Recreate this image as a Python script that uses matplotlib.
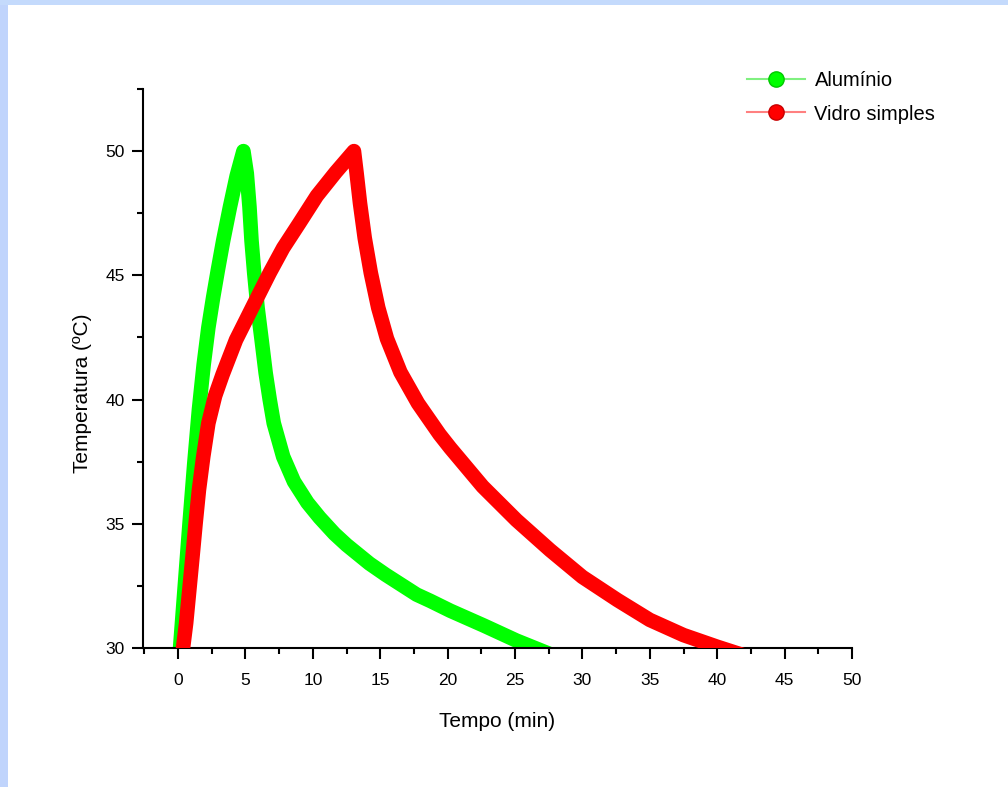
import matplotlib
matplotlib.use("Agg")
import matplotlib.pyplot as plt
from matplotlib.lines import Line2D
from matplotlib.patches import Rectangle
from matplotlib.ticker import MultipleLocator

# ---- data ----
alu_t = [0.15, 0.5, 0.85, 1.2, 1.55, 1.9, 2.25, 2.6, 2.95, 3.35, 3.85, 4.35, 4.85,
         5.1, 5.3, 5.45, 5.65, 5.9, 6.2, 6.5, 6.8, 7.1, 7.8, 8.6, 9.6, 10.5, 11.6,
         12.5, 14.2, 15.4, 17.7, 18.7, 20.2, 22.7, 25.1, 28.3]
alu_T = [30.0, 32.5, 35.0, 37.4, 39.6, 41.4, 42.9, 44.1, 45.2, 46.4, 47.75, 49.0, 50.0,
         49.1, 47.75, 46.4, 45.1, 43.7, 42.4, 41.07, 40.0, 39.05, 37.7, 36.7, 35.85, 35.25, 34.6,
         34.15, 33.4, 32.95, 32.15, 31.9, 31.5, 30.9, 30.3, 29.6]

vid_t = [0.37, 0.6, 0.83, 1.07, 1.3, 1.55, 1.87, 2.25, 2.75, 3.3, 4.3, 5.5, 6.8, 7.8,
         9.0, 10.3, 11.7, 13.05,
         13.25, 13.5, 13.85, 14.3, 14.85, 15.5, 16.5, 17.8, 19.4, 20.2, 22.6, 25.1, 27.6,
         30.0, 32.6, 35.0, 37.5, 40.0, 42.0]
vid_T = [30.0, 31.0, 32.3, 33.66, 35.0, 36.36, 37.7, 39.05, 40.15, 41.0, 42.4, 43.7, 45.1, 46.1,
         47.1, 48.2, 49.15, 50.0,
         49.1, 47.9, 46.5, 45.1, 43.7, 42.45, 41.1, 39.85, 38.6, 38.05, 36.5, 35.15, 33.94,
         32.86, 31.93, 31.13, 30.52, 30.05, 29.7]

series_labels = ["Alumínio", "Vidro simples"]
x_ticks = [0, 5, 10, 15, 20, 25, 30, 35, 40, 45, 50]
y_ticks = [30, 35, 40, 45, 50]

plt.rcParams['font.family'] = ['Liberation Sans', 'DejaVu Sans']

fig = plt.figure(figsize=(10.08, 7.87), dpi=100)
fig.patch.set_facecolor('white')
fig.patches.append(Rectangle((0, 0), 8 / 1008, 1, transform=fig.transFigure,
                             facecolor='#c0d4fc', edgecolor='none', zorder=0))
fig.patches.append(Rectangle((0, 1 - 5 / 787), 1, 5 / 787, transform=fig.transFigure,
                             facecolor='#c4dafc', edgecolor='none', zorder=0))

ax = fig.add_axes([143 / 1008, 1 - 648 / 787, (852 - 143) / 1008, (648 - 89) / 787])

ax.plot(alu_t, alu_T, color='#00ff00', lw=10.5, solid_capstyle='round',
        solid_joinstyle='round', zorder=2)
ax.plot(vid_t, vid_T, color='#ff0000', lw=10.5, solid_capstyle='round',
        solid_joinstyle='round', zorder=3)

ax.set_xlim(-2.6, 50)
ax.set_ylim(30, 52.5)
ax.set_xticks(x_ticks)
ax.set_yticks(y_ticks)
ax.xaxis.set_minor_locator(MultipleLocator(2.5))
ax.yaxis.set_minor_locator(MultipleLocator(2.5))

for s in ['top', 'right']:
    ax.spines[s].set_visible(False)
for s in ['left', 'bottom']:
    ax.spines[s].set_linewidth(1.5)

ax.tick_params(which='major', direction='out', length=8, width=1.5, labelsize=12.5, pad=5)
ax.tick_params(which='minor', direction='out', length=4, width=1.5)
ax.tick_params(axis='x', which='major', pad=10)

ax.set_xlabel("Tempo (min)", fontsize=15, labelpad=17)
ax.set_ylabel("Temperatura (ºC)", fontsize=15)
ax.yaxis.set_label_coords(-0.072, 0.456)

handles = [
    Line2D([], [], color='#80f080', lw=1.5, marker='o', markersize=11,
           markerfacecolor='#00ff00', markeredgecolor='#00c800'),
    Line2D([], [], color='#ff8080', lw=1.5, marker='o', markersize=11,
           markerfacecolor='#ff0000', markeredgecolor='#c80000'),
]
fig.legend(handles, series_labels, loc='upper left',
           bbox_to_anchor=(747 / 1008, 1 - 71 / 787), frameon=False,
           fontsize=14.5, handlelength=2.9, handletextpad=0.45, labelspacing=0.72,
           borderpad=0, borderaxespad=0)

fig.savefig("out.png", dpi=100, facecolor=fig.get_facecolor())
